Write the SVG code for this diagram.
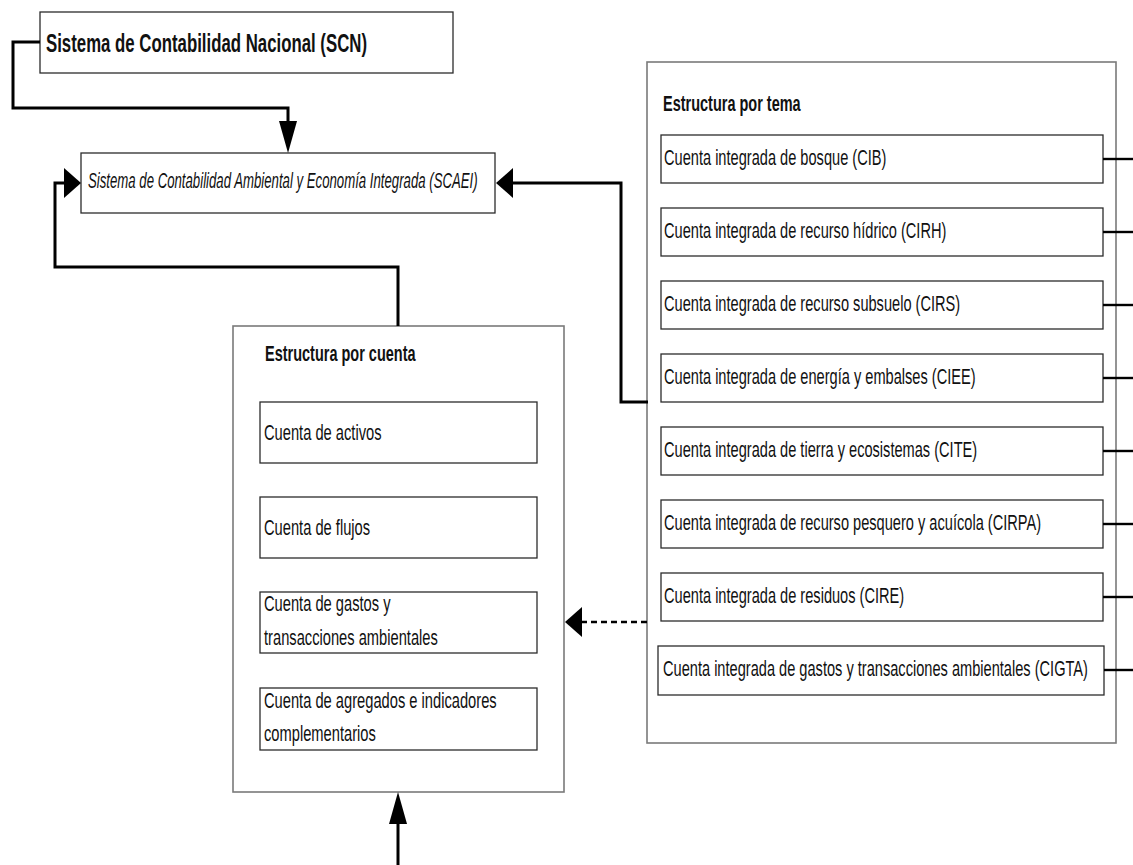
<svg xmlns="http://www.w3.org/2000/svg" width="1133" height="865" viewBox="0 0 1133 865">
  <style>
    .bg { fill: #ffffff; }
    .box { fill: #ffffff; stroke: #2b2b2b; stroke-width: 1.3; }
    .frame { fill: #ffffff; stroke: #7a7a7a; stroke-width: 1.6; }
    .t { font-family: "Liberation Sans", Arial, sans-serif; font-size: 14.6px; fill: #111111; }
    .l { font-size: 14.7px; }
    .h { font-weight: bold; font-size: 14.5px; }
    .title { font-weight: bold; font-size: 16.8px; }
    .i { font-style: italic; font-size: 13.2px; }
    .link { fill: none; stroke: #000000; stroke-width: 3; }
    .stub { fill: none; stroke: #000000; stroke-width: 2.4; }
    .dash { fill: none; stroke: #000000; stroke-width: 2.6; stroke-dasharray: 6 4; }
  </style>
  <defs>
    <!-- arrowheads: long/narrow when pointing vertically, short/tall when horizontal -->
    <marker id="arrowV" markerUnits="userSpaceOnUse" viewBox="0 0 32 18" refX="0" refY="9" markerWidth="32" markerHeight="18" orient="auto">
      <path d="M0,0 L32,9 L0,18 Z" fill="#000000"/>
    </marker>
    <marker id="arrowH" markerUnits="userSpaceOnUse" viewBox="0 0 17 30" refX="0" refY="15" markerWidth="17" markerHeight="30" orient="auto">
      <path d="M0,0 L17,15 L0,30 Z" fill="#000000"/>
    </marker>
  </defs>

  <rect class="bg" x="0" y="0" width="1133" height="865"/>

  <!-- outer containers -->
  <g id="estructura-tema">
    <rect class="frame" x="647" y="62" width="469" height="681"/>
    <text class="t h" transform="translate(663,111) scale(1,1.5)">Estructura por tema</text>
  </g>
  <g id="estructura-cuenta">
    <rect class="frame" x="233" y="326" width="331" height="466"/>
    <text class="t h" transform="translate(265,361) scale(1,1.5)">Estructura por cuenta</text>
  </g>

  <!-- top-level systems -->
  <g id="scn">
    <rect class="box" x="40" y="12" width="413" height="61"/>
    <text class="t title" transform="translate(46,52) scale(1,1.58)">Sistema de Contabilidad Nacional (SCN)</text>
  </g>
  <g id="scaei">
    <rect class="box" x="81" y="153" width="414" height="60"/>
    <text class="t i" transform="translate(88,188) scale(1,1.65)">Sistema de Contabilidad Ambiental y Economía Integrada (SCAEI)</text>
  </g>

  <!-- accounts by type -->
  <g id="cuenta-activos">
    <rect class="box" x="260" y="402" width="277" height="61"/>
    <text class="t l" transform="translate(264,440) scale(1,1.5)">Cuenta de activos</text>
  </g>
  <g id="cuenta-flujos">
    <rect class="box" x="260" y="497" width="277" height="61"/>
    <text class="t l" transform="translate(264,535) scale(1,1.5)">Cuenta de flujos</text>
  </g>
  <g id="cuenta-gastos">
    <rect class="box" x="260" y="592" width="277" height="61"/>
    <text class="t l" transform="translate(264,611) scale(1,1.5)">Cuenta de gastos y</text>
    <text class="t l" transform="translate(264,645) scale(1,1.5)">transacciones ambientales</text>
  </g>
  <g id="cuenta-agregados">
    <rect class="box" x="260" y="688" width="277" height="62"/>
    <text class="t l" transform="translate(264,708) scale(1,1.5)">Cuenta de agregados e indicadores</text>
    <text class="t l" transform="translate(264,741) scale(1,1.5)">complementarios</text>
  </g>

  <!-- integrated accounts by theme -->
  <g id="cib">
    <rect class="box" x="661" y="135" width="442" height="48"/>
    <text class="t" transform="translate(664,165) scale(1,1.5)">Cuenta integrada de bosque (CIB)</text>
  </g>
  <g id="cirh">
    <rect class="box" x="661" y="208" width="442" height="48"/>
    <text class="t" transform="translate(664,238) scale(1,1.5)">Cuenta integrada de recurso hídrico (CIRH)</text>
  </g>
  <g id="cirs">
    <rect class="box" x="661" y="281" width="442" height="48"/>
    <text class="t" transform="translate(664,311) scale(1,1.5)">Cuenta integrada de recurso subsuelo (CIRS)</text>
  </g>
  <g id="ciee">
    <rect class="box" x="661" y="354" width="442" height="48"/>
    <text class="t" transform="translate(664,384) scale(1,1.5)">Cuenta integrada de energía y embalses (CIEE)</text>
  </g>
  <g id="cite">
    <rect class="box" x="661" y="427" width="442" height="48"/>
    <text class="t" transform="translate(664,457) scale(1,1.5)">Cuenta integrada de tierra y ecosistemas (CITE)</text>
  </g>
  <g id="cirpa">
    <rect class="box" x="661" y="500" width="442" height="48"/>
    <text class="t" transform="translate(664,530) scale(1,1.5)">Cuenta integrada de recurso pesquero y acuícola (CIRPA)</text>
  </g>
  <g id="cire">
    <rect class="box" x="661" y="573" width="442" height="48"/>
    <text class="t" transform="translate(664,603) scale(1,1.5)">Cuenta integrada de residuos (CIRE)</text>
  </g>
  <g id="cigta">
    <rect class="box" x="658" y="646" width="446" height="49"/>
    <text class="t" transform="translate(663,676) scale(1,1.5)">Cuenta integrada de gastos y transacciones ambientales (CIGTA)</text>
  </g>

  <!-- connectors -->
  <g id="connectors">
    <path class="link" d="M40,42 H13 V108 H288 V121" marker-end="url(#arrowV)"/>
    <path class="link" d="M398,326 V267 H55 V183 H64" marker-end="url(#arrowH)"/>
    <path class="link" d="M648,402 H621 V183 H513" marker-end="url(#arrowH)"/>
    <path class="dash" d="M647,622 H582" marker-end="url(#arrowH)"/>
    <path class="link" d="M398,865 V824" marker-end="url(#arrowV)"/>
    <path class="stub" d="M1103,159 H1133"/>
    <path class="stub" d="M1103,232 H1133"/>
    <path class="stub" d="M1103,305 H1133"/>
    <path class="stub" d="M1103,378 H1133"/>
    <path class="stub" d="M1103,451 H1133"/>
    <path class="stub" d="M1103,524 H1133"/>
    <path class="stub" d="M1103,597 H1133"/>
    <path class="stub" d="M1104,670 H1133"/>
  </g>
</svg>
